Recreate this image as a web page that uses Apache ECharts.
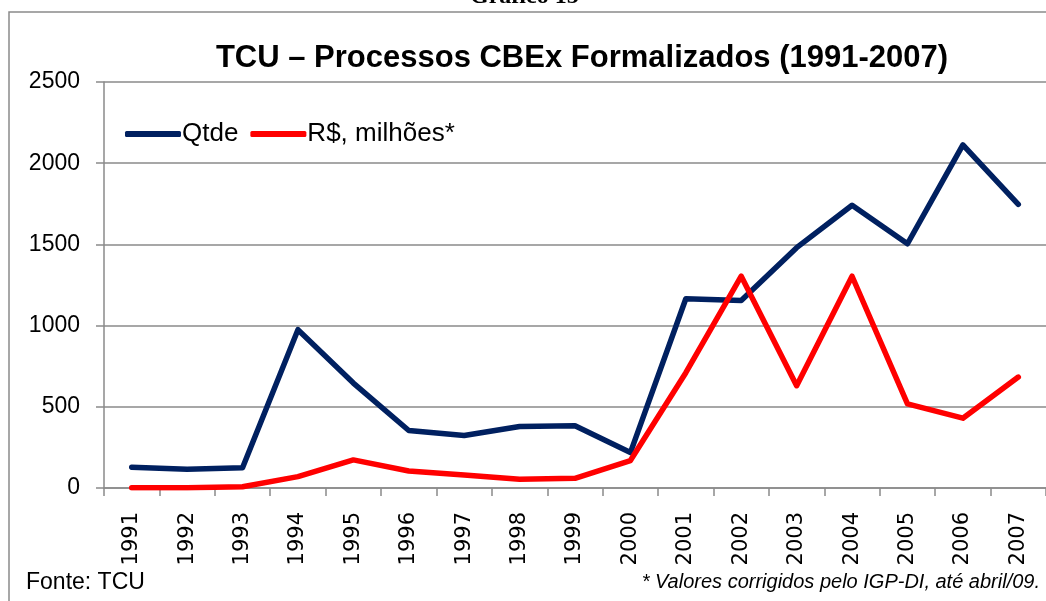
<!DOCTYPE html>
<html>
<head>
<meta charset="utf-8">
<title>TCU – Processos CBEx Formalizados</title>
<script src="https://cdn.jsdelivr.net/npm/echarts@6/dist/echarts.min.js"></script>
<style>
  html, body { margin: 0; padding: 0; background: #fff; }
  #chart { width: 1046px; height: 601px; }
</style>
</head>
<body>
<div id="chart"></div>
<script>
// Gráfico 15 — TCU, processos CBEx formalizados 1991-2007

const years = ['1991', '1992', '1993', '1994', '1995', '1996', '1997', '1998', '1999',
  '2000', '2001', '2002', '2003', '2004', '2005', '2006', '2007'];
const qtde = [128, 115, 125, 975, 646, 354, 323, 379, 383, 218, 1165, 1154, 1480, 1741, 1504, 2113, 1747];
const valorMilhoes = [2, 2, 8, 70, 173, 105, 80, 54, 60, 169, 710, 1304, 630, 1304, 518, 430, 683];
const yTicks = { min: 0, max: 2500, interval: 500 };

const GRAY = '#8a8a8a';
const NAVY = '#002060';
const RED = '#ff0000';

const chart = echarts.init(document.getElementById('chart'), null, { renderer: 'canvas' });

chart.setOption({
  backgroundColor: '#fff',
  animation: false,
  title: {
    text: 'TCU – Processos CBEx Formalizados (1991-2007)',
    left: 577,
    top: 38,
    textAlign: 'center',
    textStyle: {
      fontFamily: 'Liberation Sans',
      fontWeight: 'bold',
      fontSize: 31,
      color: '#000',
    },
  },
  legend: {
    orient: 'horizontal',
    left: 120,
    top: 116,
    icon: 'roundRect',
    itemWidth: 56,
    itemHeight: 6,
    itemGap: 12,
    data: ['Qtde', 'R$, milhões*'],
    textStyle: { fontFamily: 'Liberation Sans', fontSize: 26, color: '#000', padding: [0, 0, 0, -4] },
  },
  grid: { left: 104, right: -10, top: 82, bottom: 113 },
  xAxis: {
    type: 'category',
    data: years,
    boundaryGap: true,
    axisLine: { lineStyle: { color: GRAY, width: 1.5 } },
    axisTick: { show: true, length: 8, lineStyle: { color: GRAY, width: 1.5 } },
    axisLabel: {
      rotate: 90,
      margin: 24,
      fontFamily: 'DejaVu Sans',
      fontSize: 21,
      color: '#000',
    },
  },
  yAxis: {
    type: 'value',
    min: yTicks.min,
    max: yTicks.max,
    interval: yTicks.interval,
    axisLine: { show: true, lineStyle: { color: GRAY, width: 1.5 } },
    axisTick: { show: true, length: 8, lineStyle: { color: GRAY, width: 1.5 } },
    splitLine: { lineStyle: { color: GRAY, width: 1.5 } },
    axisLabel: {
      margin: 24,
      fontFamily: 'Liberation Sans',
      fontSize: 23,
      color: '#000',
      formatter: (v) => String(v),
    },
  },
  series: [
    {
      name: 'Qtde',
      type: 'line',
      data: qtde,
      symbol: 'none',
      lineStyle: { color: NAVY, width: 5.5, cap: 'round', join: 'round' },
      itemStyle: { color: NAVY },
    },
    {
      name: 'R$, milhões*',
      type: 'line',
      data: valorMilhoes,
      symbol: 'none',
      lineStyle: { color: RED, width: 5.5, cap: 'round', join: 'round' },
      itemStyle: { color: RED },
    },
  ],
  graphic: [
    {
      type: 'rect',
      shape: { x: 9, y: 12, width: 1100, height: 700 },
      style: { fill: 'none', stroke: GRAY, lineWidth: 1.5 },
      silent: true,
      z: -1,
    },
    {
      type: 'text',
      left: 470,
      top: -15,
      style: { text: 'Gráfico 15', font: 'bold 24px "Liberation Serif"', fill: '#000' },
    },
    {
      type: 'text',
      left: 26,
      top: 571,
      style: { text: 'Fonte: TCU', font: '23px "Liberation Sans"', fill: '#000' },
    },
    {
      type: 'text',
      right: 6,
      top: 572,
      style: { text: '* Valores corrigidos pelo IGP-DI, até abril/09.', font: 'italic 20px "Liberation Sans"', fill: '#000' },
    },
  ],
});

window.addEventListener('resize', () => chart.resize());
</script>
</body>
</html>
